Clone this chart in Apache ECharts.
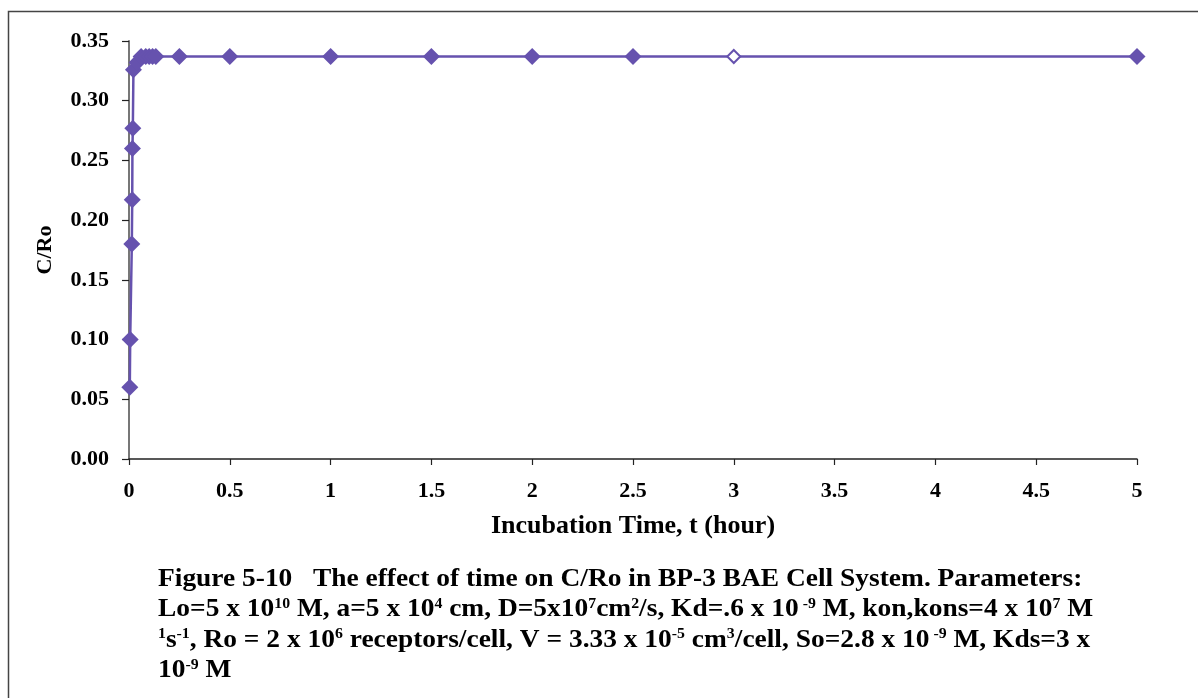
<!DOCTYPE html>
<html>
<head>
<meta charset="utf-8">
<script src="https://cdn.jsdelivr.net/npm/echarts@6/dist/echarts.min.js"></script>
<style>
html,body{margin:0;padding:0;background:#fff;}
#chart{width:1198px;height:698px;}
</style>
</head>
<body>
<div id="chart"></div>
<script>
// Data
var times  = [0.004, 0.006, 0.014, 0.016, 0.017, 0.019, 0.022, 0.04, 0.06, 0.083, 0.1, 0.117, 0.133, 0.25, 0.5, 1, 1.5, 2, 2.5, 3, 5];
var values = [0.06, 0.10, 0.18, 0.217, 0.26, 0.277, 0.326, 0.332, 0.337, 0.337, 0.337, 0.337, 0.337, 0.337, 0.337, 0.337, 0.337, 0.337, 0.337, 0.337, 0.337];
var hollowIndex = 19; // t = 3 drawn as open diamond
var xTicks = {min: 0, max: 5, interval: 0.5};
var yTicks = {min: 0, max: 0.35, interval: 0.05};
var xName = 'Incubation Time, t (hour)';
var yName = 'C/Ro';
var captionLines = [
  'Figure 5-10   The effect of time on C/Ro in BP-3 BAE Cell System. Parameters:',
  'Lo=5 x 10{s|10} M, a=5 x 10{s|4} cm, D=5x10{s|7}cm{s|2}/s, Kd=.6 x 10{s| -9} M, kon,kons=4 x 10{s|7} M',
  '{s|1}s{s|-1}, Ro = 2 x 10{s|6} receptors/cell, V = 3.33 x 10{s|-5} cm{s|3}/cell, So=2.8 x 10{s| -9} M, Kds=3 x',
  '10{s|-9} M'
];

var color = '#6652AE';
var font = '"Liberation Serif", "DejaVu Serif", serif';

var seriesData = times.map(function (t, i) {
  var d = {value: [t, values[i]]};
  if (i === hollowIndex) {
    d.itemStyle = {color: '#ffffff', borderColor: color, borderWidth: 2};
    d.symbolSize = 13;
  }
  return d;
});

var chart = echarts.init(document.getElementById('chart'), null, {renderer: 'canvas'});

var graphics = [{
  type: 'rect',
  shape: {x: 8.5, y: 11.5, width: 1210, height: 720},
  style: {fill: 'none', stroke: '#444', lineWidth: 1.5},
  silent: true
}];
captionLines.forEach(function (line, i) {
  graphics.push({
    type: 'text',
    x: 158,
    y: 566 + i * 30.5,
    scaleX: 1.055,
    style: {
      text: line,
      font: 'bold 26px ' + font,
      fill: '#000',
      rich: {
        s: {fontSize: 15, fontWeight: 'bold', fontFamily: font, verticalAlign: 'top', padding: [0, 0, 11, 0], fill: '#000'}
      }
    }
  });
});

chart.setOption({
  animation: false,
  grid: {left: 129, right: 61, top: 41, bottom: 239, containLabel: false},
  xAxis: {
    type: 'value',
    min: xTicks.min, max: xTicks.max, interval: xTicks.interval,
    name: xName,
    nameLocation: 'middle',
    nameGap: 54,
    nameTextStyle: {fontFamily: font, fontWeight: 'bold', fontSize: 26, color: '#000'},
    axisLine: {show: true, onZero: false, lineStyle: {color: '#222', width: 1.5}},
    axisTick: {show: true, length: 6, inside: false, lineStyle: {color: '#222', width: 1.2}},
    axisLabel: {fontFamily: font, fontWeight: 'bold', fontSize: 22, color: '#000', margin: 21},
    splitLine: {show: false}
  },
  yAxis: {
    type: 'value',
    min: yTicks.min, max: yTicks.max, interval: yTicks.interval,
    name: yName,
    nameLocation: 'middle',
    nameGap: 73,
    nameRotate: 90,
    nameTextStyle: {fontFamily: font, fontWeight: 'bold', fontSize: 22, color: '#000'},
    axisLine: {show: true, lineStyle: {color: '#777', width: 2}},
    axisTick: {show: true, length: 7, inside: false, lineStyle: {color: '#222', width: 1.2}},
    axisLabel: {fontFamily: font, fontWeight: 'bold', fontSize: 22, color: '#000', margin: 20,
      formatter: function (v) { return v.toFixed(2); }},
    splitLine: {show: false}
  },
  series: [{
    type: 'line',
    data: seriesData,
    symbol: 'diamond',
    symbolSize: 17,
    showAllSymbol: true,
    lineStyle: {color: color, width: 2.5},
    itemStyle: {color: color, borderWidth: 0}
  }],
  graphic: graphics
});
</script>
</body>
</html>
